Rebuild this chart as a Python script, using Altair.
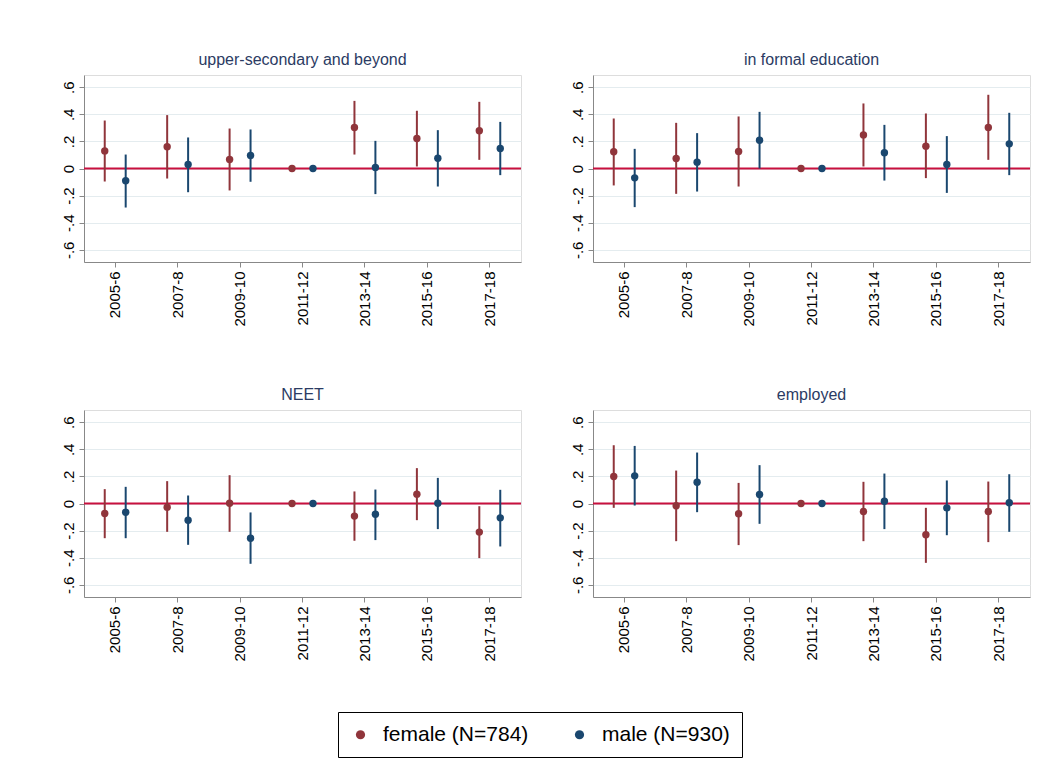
import altair as alt
import pandas as pd

periods = ["2005-6", "2007-8", "2009-10", "2011-12", "2013-14", "2015-16", "2017-18"]
sexes = ["female (N=784)", "male (N=930)"]
panels = ["upper-secondary and beyond", "in formal education", "NEET", "employed"]
y_ticks = [-0.6, -0.4, -0.2, 0.0, 0.2, 0.4, 0.6]

# upper-secondary and beyond
us_f_est = [0.130, 0.160, 0.066, 0.0, 0.303, 0.221, 0.278]
us_f_lo = [-0.096, -0.074, -0.162, 0.0, 0.103, 0.015, 0.064]
us_f_hi = [0.354, 0.394, 0.295, 0.0, 0.499, 0.426, 0.492]
us_m_est = [-0.091, 0.030, 0.096, 0.0, 0.007, 0.076, 0.148]
us_m_lo = [-0.288, -0.175, -0.098, 0.0, -0.189, -0.133, -0.049]
us_m_hi = [0.103, 0.229, 0.288, 0.0, 0.204, 0.283, 0.344]

# in formal education
fe_f_est = [0.123, 0.074, 0.125, 0.0, 0.248, 0.165, 0.303]
fe_f_lo = [-0.125, -0.187, -0.133, 0.0, 0.015, -0.071, 0.064]
fe_f_hi = [0.369, 0.337, 0.384, 0.0, 0.480, 0.406, 0.544]
fe_m_est = [-0.069, 0.047, 0.209, 0.0, 0.116, 0.030, 0.182]
fe_m_lo = [-0.285, -0.170, 0.000, 0.0, -0.089, -0.180, -0.049]
fe_m_hi = [0.145, 0.261, 0.418, 0.0, 0.322, 0.239, 0.411]

# NEET
ne_f_est = [-0.074, -0.027, 0.002, 0.0, -0.093, 0.069, -0.211]
ne_f_lo = [-0.256, -0.209, -0.209, 0.0, -0.275, -0.123, -0.403]
ne_f_hi = [0.106, 0.165, 0.209, 0.0, 0.089, 0.261, -0.020]
ne_m_est = [-0.064, -0.123, -0.256, 0.0, -0.079, 0.002, -0.106]
ne_m_lo = [-0.256, -0.305, -0.445, 0.0, -0.270, -0.189, -0.317]
ne_m_hi = [0.123, 0.059, -0.066, 0.0, 0.103, 0.189, 0.101]

# employed
em_f_est = [0.199, -0.017, -0.076, 0.0, -0.059, -0.231, -0.059]
em_f_lo = [-0.032, -0.278, -0.307, 0.0, -0.278, -0.438, -0.285]
em_f_hi = [0.430, 0.243, 0.152, 0.0, 0.160, -0.032, 0.162]
em_m_est = [0.204, 0.157, 0.066, 0.0, 0.017, -0.032, 0.005]
em_m_lo = [-0.015, -0.064, -0.150, 0.0, -0.189, -0.234, -0.209]
em_m_hi = [0.425, 0.376, 0.283, 0.0, 0.221, 0.170, 0.216]

panel_data = {
    panels[0]: ((us_f_est, us_f_lo, us_f_hi), (us_m_est, us_m_lo, us_m_hi)),
    panels[1]: ((fe_f_est, fe_f_lo, fe_f_hi), (fe_m_est, fe_m_lo, fe_m_hi)),
    panels[2]: ((ne_f_est, ne_f_lo, ne_f_hi), (ne_m_est, ne_m_lo, ne_m_hi)),
    panels[3]: ((em_f_est, em_f_lo, em_f_hi), (em_m_est, em_m_lo, em_m_hi)),
}

FEMALE = "#90353b"
MALE = "#1a476f"
ZERO = "#c8103e"
GRID = "#e4ecef"
TITLE = "#2b3b63"
FONT = "Liberation Sans"

W, H = 437, 187


def make_df(name):
    rows = []
    for sex, (est, lo, hi) in zip(sexes, panel_data[name]):
        for p, e, l, h in zip(periods, est, lo, hi):
            rows.append({"period": p, "sex": sex, "est": e, "lo": l, "hi": h})
    return pd.DataFrame(rows)


label_expr = "datum.value == 0 ? '0' : (datum.value < 0 ? '-' : '') + '.' + toString(round(abs(datum.value) * 10))"


def panel(name):
    df = make_df(name)
    base = alt.Chart(df)
    x = alt.X(
        "period:N",
        sort=periods,
        scale=alt.Scale(paddingInner=0, paddingOuter=0),
        axis=alt.Axis(title=None, labelAngle=-90, labelFontSize=15, tickSize=5,
                      labelPadding=4, grid=False),
    )
    xo = alt.XOffset("sex:N", sort=sexes,
                     scale=alt.Scale(paddingInner=0, paddingOuter=0.49))
    yscale = alt.Scale(domain=[-0.69, 0.69], nice=False, zero=False)
    yaxis = alt.Axis(title=None, values=y_ticks, labelExpr=label_expr, labelAngle=-90,
                     labelFontSize=15, tickSize=5, labelPadding=3, grid=True,
                     gridColor=GRID, gridWidth=1.2)
    color = alt.Color(
        "sex:N",
        sort=sexes,
        scale=alt.Scale(domain=sexes, range=[FEMALE, MALE]),
        legend=alt.Legend(
            title=None, orient="none", legendX=254, legendY=637, direction="horizontal",
            strokeColor="black", padding=12, labelFontSize=21,
            labelFont=FONT, labelColor="black", symbolType="circle", symbolSize=85,
            symbolStrokeWidth=0, labelOffset=12, columnPadding=40, fillColor="white",
        ),
    )
    zero = alt.Chart(pd.DataFrame({"z": [0.0]})).mark_rule(color=ZERO, strokeWidth=2).encode(
        y=alt.Y("z:Q", scale=yscale, axis=yaxis)
    )
    bars = base.mark_rule(strokeWidth=2).encode(
        x=x, xOffset=xo,
        y=alt.Y("lo:Q", scale=yscale, axis=yaxis), y2="hi:Q",
        color=color,
    )
    pts = base.mark_circle(size=55, opacity=1).encode(
        x=x, xOffset=xo,
        y=alt.Y("est:Q", scale=yscale, axis=yaxis),
        color=color,
    )
    return alt.layer(zero, bars, pts).properties(
        width=W, height=H,
        title=alt.TitleParams(name, fontSize=16, fontWeight="normal", color=TITLE,
                              font=FONT, anchor="middle", offset=7),
    )


top = alt.hconcat(panel(panels[0]), panel(panels[1]), spacing=46)
bottom = alt.hconcat(panel(panels[2]), panel(panels[3]), spacing=46)
chart = alt.vconcat(top, bottom, spacing=59).properties(
    padding={"left": 52, "top": 43, "right": 5, "bottom": 5}
).configure_view(stroke=None).configure_axis(
    labelFont=FONT, labelColor="black", domainColor="#222", tickColor="#222",
    domainWidth=1, tickWidth=1,
).configure(background="white")

chart.save("out.html", embed_options={"renderer": "svg", "actions": False})
